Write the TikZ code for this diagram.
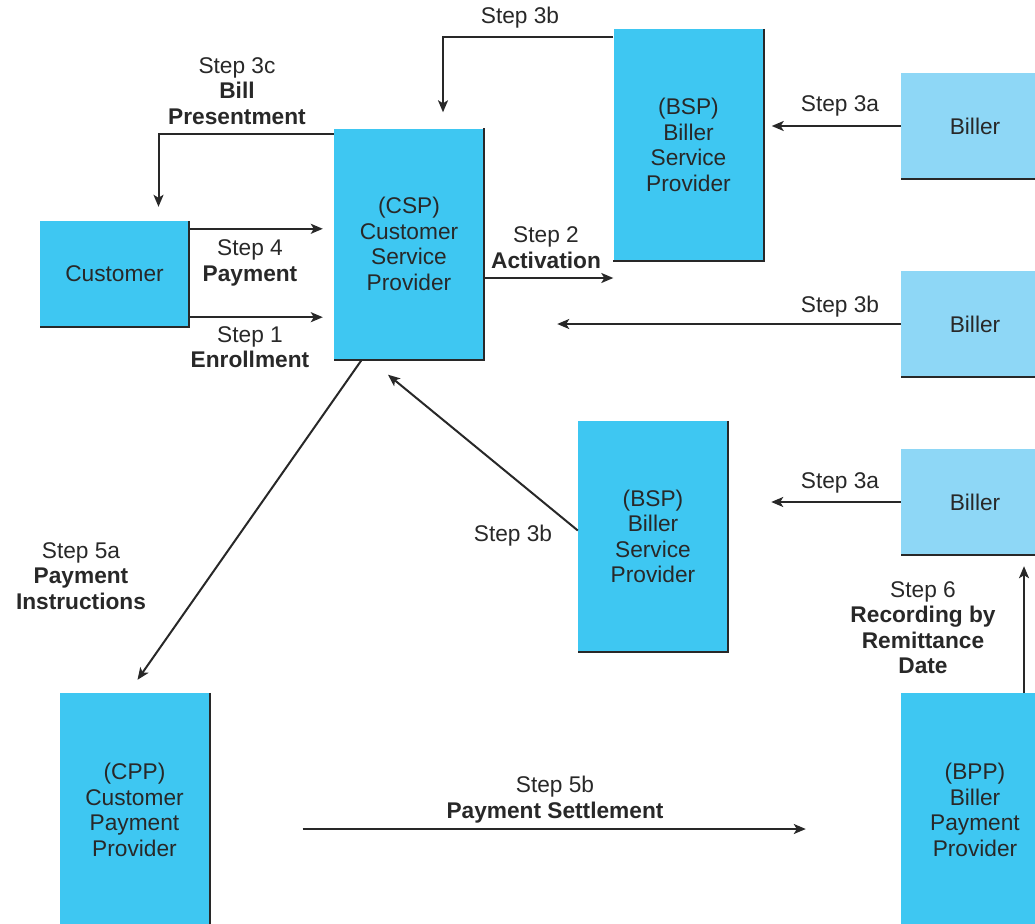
\documentclass[tikz,border=0pt]{standalone}
\usepackage{fontspec}
\setmainfont{Liberation Sans}
\usetikzlibrary{arrows.meta}
\definecolor{provblue}{RGB}{62,199,242}
\definecolor{billblue}{RGB}{142,215,246}
\definecolor{inkgray}{RGB}{40,40,40}
\tikzset{
  every node/.style={font=\fontsize{22.7}{25.5}\selectfont, text=inkgray},
  prov/.style={fill=provblue, minimum width=150pt, minimum height=231pt, inner sep=0pt, align=center},
  bill/.style={fill=billblue, minimum width=148pt, minimum height=106pt, inner sep=0pt},
  rim/.style={draw=inkgray, line width=2.2pt},
  flow/.style={draw=inkgray, line width=2pt, -{Stealth[length=12pt,width=10pt,inset=3pt]}},
  lbl/.style={align=center, inner sep=0pt}
}
\begin{document}
\begin{tikzpicture}[x=1pt,y=-1pt]
	\useasboundingbox (0,0) rectangle (1035,923);
	
	\node[prov, minimum width=149pt, minimum height=106pt] (cust) at (114.5,274) {Customer};
	\node[prov] (csp) at (409,244) {(CSP)\\Customer\\Service\\Provider};
	\node[prov, minimum height=232pt] (bsp1) at (688.5,145) {(BSP)\\Biller\\Service\\Provider};
	\node[prov] (bsp2) at (653,536.5) {(BSP)\\Biller\\Service\\Provider};
	\node[prov, minimum height=234pt] (cpp) at (134.5,810) {(CPP)\\Customer\\Payment\\Provider};
	\node[prov, minimum width=148pt, minimum height=234pt] (bpp) at (975,810) {(BPP)\\Biller\\Payment\\Provider};
	\node[bill] (biller1) at (975,126) {Biller};
	\node[bill] (biller2) at (975,324) {Biller};
	\node[bill] (biller3) at (975,502) {Biller};
	
	\foreach \n in {cust,csp,bsp1,bsp2,cpp,bpp,biller1,biller2,biller3}
		\draw[rim] (\n.north east) -- (\n.south east) -- (\n.south west);
	
	\node[lbl] (l3c) at (237,91) {Step 3c\\\textbf{Bill}\\\textbf{Presentment}};
	\node[lbl] (l4) at (250,263) {Step 4\\\textbf{Payment}};
	\node[lbl] (l1) at (250,347) {Step 1\\\textbf{Enrollment}};
	\node[lbl] (l3bt) at (520,18) {Step 3b};
	\node[lbl] (l2) at (546,247.5) {Step 2\\\textbf{Activation}};
	\node[lbl] (l3a) at (840,106) {Step 3a};
	\node[lbl] (l3bm) at (840,307) {Step 3b};
	\node[lbl] (l3bl) at (513,536) {Step 3b};
	\node[lbl] (l3al) at (840,483) {Step 3a};
	\node[lbl] (l5a) at (81,576) {Step 5a\\\textbf{Payment}\\\textbf{Instructions}};
	\node[lbl] (l6) at (923,627.5) {Step 6\\\textbf{Recording by}\\\textbf{Remittance}\\\textbf{Date}};
	\node[lbl] (l5b) at (555,799.5) {Step 5b\\\textbf{Payment Settlement}};
	
	\coordinate (p4) at ([yshift=-8pt]cust.north east);
	\coordinate (p1) at ([yshift=10pt]cust.south east);
	\coordinate (p2) at ([yshift=-34pt]csp.east);
	\coordinate (m3b) at ([xshift=73pt]csp.east |- biller2.west);
	\coordinate (q6) at ([xshift=49pt]bpp.north);
	\coordinate (q5) at ([yshift=-19pt]cpp.east);
	
	\draw[flow] ([yshift=-6pt]csp.north west) -| ([xshift=44pt,yshift=14pt]cust.north);
	\draw[flow, shorten >=11pt] (p4) -- (p4 -| csp.west);
	\draw[flow, shorten >=11pt] (p1) -- (p1 -| csp.west);
	\draw[flow] (p2) -- (p2 -| bsp1.west);
	\draw[flow] ([yshift=-8pt]bsp1.north west) -| ([xshift=34pt,yshift=16pt]csp.north);
	\draw[flow, shorten >=8pt] (biller1.west) -- (biller1.west -| bsp1.east);
	\draw[flow] (biller2.west) -- (m3b);
	\draw[flow] ([yshift=6pt]bsp2.west) -- ([xshift=-21pt,yshift=-15pt]csp.south);
	\draw[flow] ([xshift=28pt]csp.south west) -- ([xshift=3pt,yshift=13pt]cpp.north);
	\draw[flow, shorten >=43pt] (biller3.west) -- (biller3.west -| bsp2.east);
	\draw[flow, shorten >=11pt] (q6) -- (q6 |- biller3.south);
	\draw[flow, shorten <=93pt, shorten >=95pt] (q5) -- (q5 -| bpp.west);
\end{tikzpicture}
\end{document}
